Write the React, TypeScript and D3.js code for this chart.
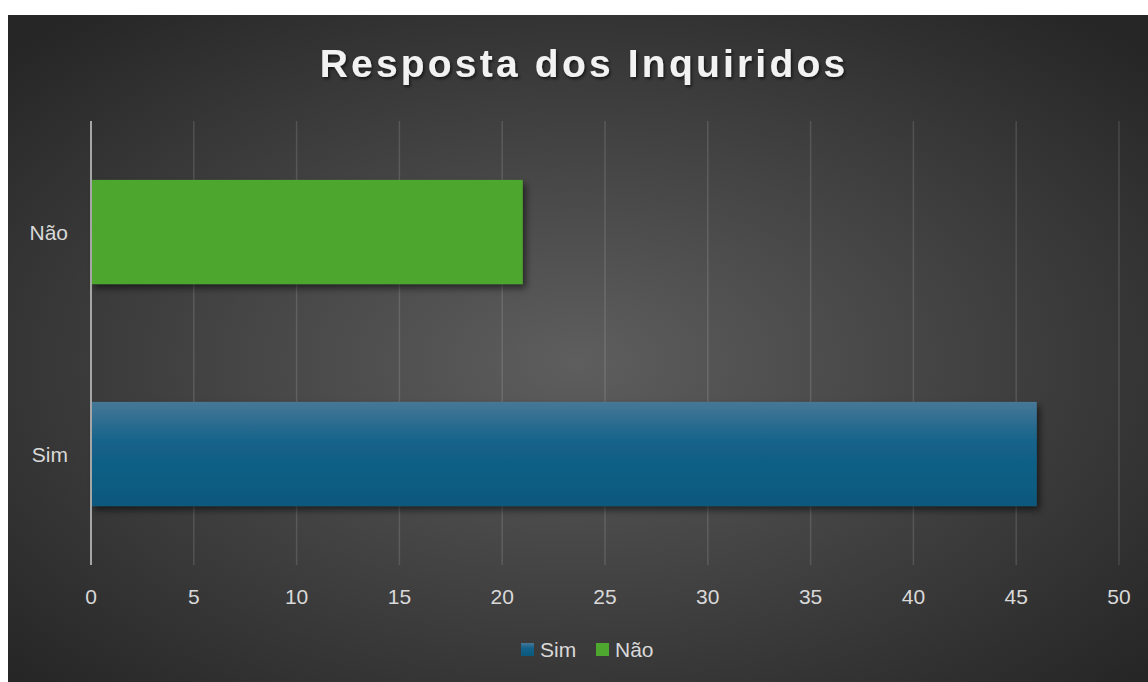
import React from "react";
import * as d3 from "d3";

const categories = ["Não", "Sim"];
const values = [21, 46];
const seriesColors = ["#4ea72e", "url(#simGrad)"];
const legendItems = ["Sim", "Não"];
const xTicks = [0, 5, 10, 15, 20, 25, 30, 35, 40, 45, 50];
const title = "Resposta dos Inquiridos";

export default function App() {
  const W = 1148, H = 682;
  const chart = { x: 8, y: 15, w: 1140, h: 667 };
  const plot = { left: 91, right: 1119, top: 121, bottom: 565 };
  const x = d3.scaleLinear().domain([0, 50]).range([plot.left, plot.right]);
  const y = d3.scaleBand().domain(categories).range([plot.top, plot.bottom]).padding(0);
  const barH = y.bandwidth() / 2.13;
  const font = "'Liberation Sans', Arial, sans-serif";
  const txt = "#d9d9d9";
  const fs = 21;

  return (
    <svg width={W} height={H} style={{ position: "absolute", left: 0, top: 0, background: "#fff" }}>
      <defs>
        <radialGradient id="bg" cx="0.5" cy="0.52" r="0.68" gradientUnits="objectBoundingBox">
          <stop offset="0" stopColor="#5e5e5e" />
          <stop offset="1" stopColor="#262626" />
        </radialGradient>
        <linearGradient id="simGrad" x1="0" y1="0" x2="0" y2="1">
          <stop offset="0" stopColor="#467797" />
          <stop offset="0.4" stopColor="#13628a" />
          <stop offset="1" stopColor="#0c587d" />
        </linearGradient>
        <filter id="shadow" x="-5%" y="-20%" width="115%" height="150%">
          <feDropShadow dx="3" dy="4" stdDeviation="3.5" floodColor="#000" floodOpacity="0.55" />
        </filter>
        <filter id="tshadow" x="-5%" y="-30%" width="110%" height="160%">
          <feDropShadow dx="1.5" dy="2" stdDeviation="1.5" floodColor="#000" floodOpacity="0.6" />
        </filter>
      </defs>
      <rect x={chart.x} y={chart.y} width={chart.w} height={chart.h} fill="url(#bg)" />
      <text
        x={584}
        y={77}
        textAnchor="middle"
        fill="#f2f2f2"
        fontFamily={font}
        fontWeight="bold"
        fontSize={39}
        letterSpacing={3.2}
        filter="url(#tshadow)"
      >
        {title}
      </text>
      {xTicks.map((t) => (
        <g key={t}>
          {t !== 0 && (
            <line x1={x(t)} x2={x(t)} y1={plot.top} y2={plot.bottom} stroke="#ffffff" strokeOpacity={0.13} strokeWidth={1.5} />
          )}
          <text x={x(t)} y={604} textAnchor="middle" fill={txt} fontFamily={font} fontSize={fs}>
            {t}
          </text>
        </g>
      ))}
      {categories.map((c, i) => (
        <g key={c}>
          <rect
            x={x(0)}
            y={(y(c) as number) + (y.bandwidth() - barH) / 2}
            width={x(values[i]) - x(0)}
            height={barH}
            fill={seriesColors[i]}
            filter="url(#shadow)"
          />
          <text x={68} y={(y(c) as number) + y.bandwidth() / 2 + 8} textAnchor="end" fill={txt} fontFamily={font} fontSize={fs}>
            {c}
          </text>
        </g>
      ))}
      <line x1={x(0)} x2={x(0)} y1={plot.top} y2={plot.bottom} stroke="#a6a6a6" strokeWidth={2} />
      <g>
        {legendItems.map((l, i) => {
          const lx = [521, 596][i];
          return (
            <g key={l}>
              <rect x={lx} y={643} width={13} height={13} fill={l === "Sim" ? "url(#simGrad)" : "#4ea72e"} />
              <text x={lx + 19} y={657} fill={txt} fontFamily={font} fontSize={fs}>
                {l}
              </text>
            </g>
          );
        })}
      </g>
    </svg>
  );
}
